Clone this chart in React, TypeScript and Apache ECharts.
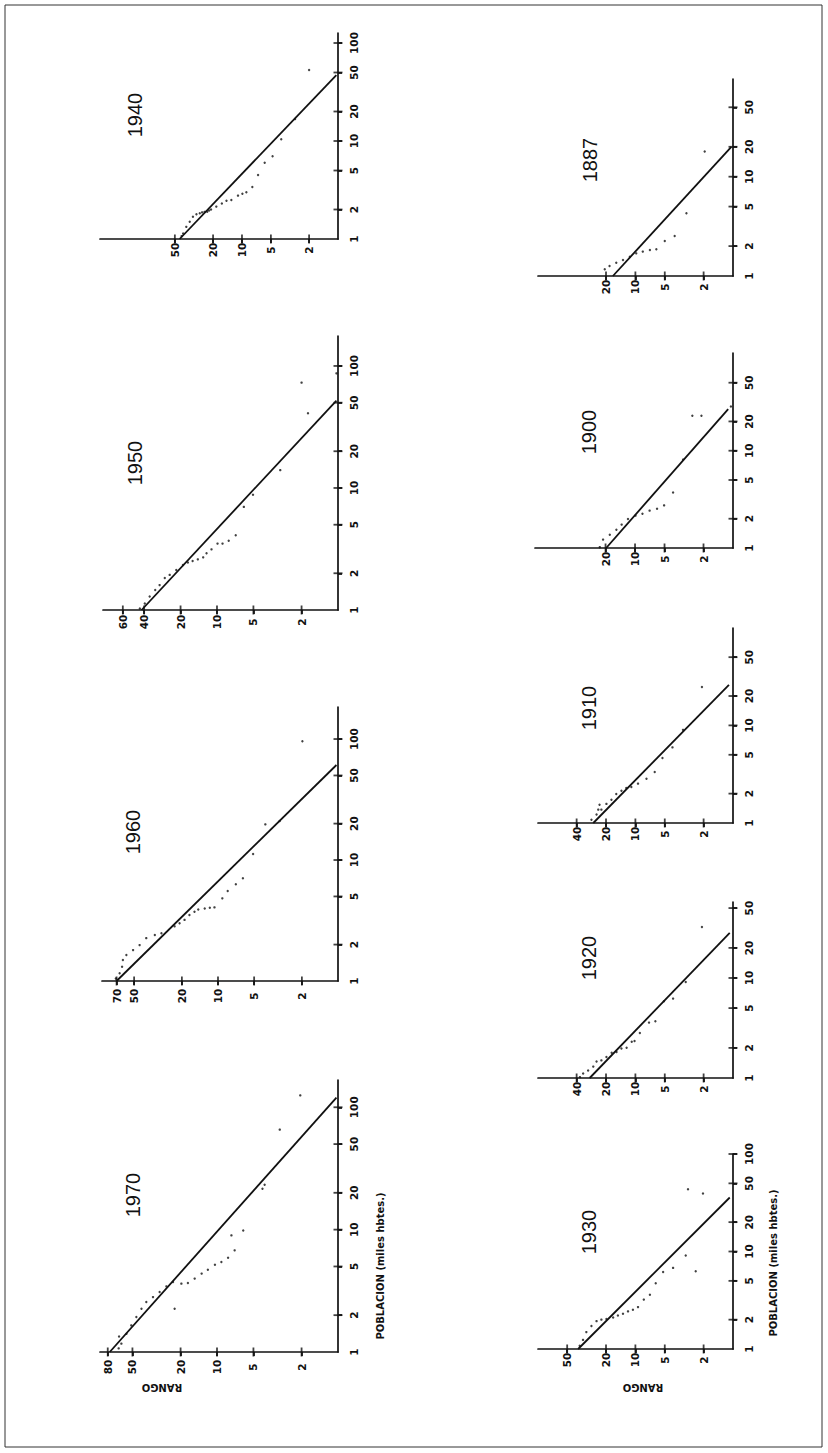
import React, { useEffect, useRef } from "react";
import * as echarts from "echarts";

// ---------- Tick labels ----------
const rankTicks1940 = [50, 20, 10, 5, 2];
const rankTicks1950 = [60, 40, 20, 10, 5, 2];
const rankTicks1960 = [70, 50, 20, 10, 5, 2];
const rankTicks1970 = [80, 50, 20, 10, 5, 2];
const rankTicks1887 = [20, 10, 5, 2];
const rankTicks1900 = [20, 10, 5, 2];
const rankTicks1910 = [40, 20, 10, 5, 2];
const rankTicks1920 = [40, 20, 10, 5, 2];
const rankTicks1930 = [50, 20, 10, 5, 2];
const popTicksLeft = [2, 5, 10, 20, 50, 100];
const popTicksRight = [2, 5, 10, 20, 50];
const popTicks1930 = [2, 5, 10, 20, 50, 100];

// ---------- City points (rank, population in thousands) ----------
const rank1940 = [2, 2.8, 3.9, 4.8, 5.8, 6.8, 7.8, 9.0, 9.9, 11, 12.9, 14.5, 16.2, 18.5, 21, 22, 23, 24.5, 26, 27.5, 29.8, 32.4, 35, 38, 41, 42.5];
const pop1940 = [53, 16.8, 10.4, 7.0, 6.0, 4.5, 3.4, 3.0, 2.9, 2.77, 2.5, 2.46, 2.3, 2.14, 2.0, 1.95, 1.9, 1.89, 1.87, 1.83, 1.79, 1.69, 1.5, 1.33, 1.14, 1.07];

const rank1950 = [1.03, 2, 1.77, 3, 5.04, 6, 7, 8, 9, 9.9, 11.1, 12.2, 13, 14.4, 15.9, 17.4, 19.1, 21.7, 24.6, 27, 29.8, 32.4, 36, 39.5, 43.4];
const pop1950 = [87, 73, 41, 14, 8.8, 7.0, 4.1, 3.7, 3.5, 3.5, 3.14, 2.92, 2.7, 2.6, 2.52, 2.45, 2.34, 2.13, 1.94, 1.83, 1.6, 1.46, 1.29, 1.13, 1.03];

const rank1960 = [1.98, 3.06, 4.03, 5.1, 6.2, 7.1, 8.3, 9.2, 10.7, 11.7, 12.9, 14.6, 15.7, 17.3, 19, 20.9, 23, 29.6, 33.6, 39.6, 45, 51, 58, 62, 63, 66, 71];
const pop1960 = [96, 21, 19.7, 11.2, 7.06, 6.3, 5.55, 4.82, 4.06, 4.03, 3.98, 3.9, 3.74, 3.51, 3.2, 3.0, 2.83, 2.48, 2.4, 2.26, 1.98, 1.8, 1.64, 1.49, 1.31, 1.16, 1.05];

const rank1970 = [2.05, 3.03, 4.04, 4.21, 6.07, 7.6, 7.15, 8.1, 9.2, 10.4, 11.9, 13.4, 15.3, 17.4, 19.7, 22.4, 23.1, 26.2, 29.8, 33.8, 38.4, 42.1, 46.4, 51.1, 56, 61.7, 64.5, 65];
const pop1970 = [125, 65.6, 23.3, 21.6, 9.85, 8.97, 6.77, 5.9, 5.43, 5.17, 4.7, 4.37, 3.98, 3.66, 3.62, 2.26, 3.73, 3.44, 3.09, 2.81, 2.56, 2.26, 1.93, 1.65, 1.41, 1.17, 1.34, 1.07];

const rank1887 = [1.95, 3.0, 3.96, 5.0, 6.1, 7.1, 8.4, 9.8, 11.4, 13.4, 15.7, 18.4, 20.6];
const pop1887 = [17.9, 4.28, 2.53, 2.25, 1.86, 1.83, 1.76, 1.69, 1.56, 1.45, 1.36, 1.26, 1.17];

const rank1900 = [1.05, 2.1, 2.6, 3.23, 4.09, 5.05, 5.96, 7.1, 8.4, 9.9, 11.8, 13.7, 15.5, 18.1, 21.2, 22.9];
const pop1900 = [28.5, 22.9, 22.9, 8.1, 3.72, 2.74, 2.53, 2.42, 2.25, 2.15, 1.99, 1.74, 1.54, 1.37, 1.22, 1.02];

const rank1910 = [2.08, 3.25, 4.17, 5.28, 6.34, 7.7, 9.4, 11.0, 12.4, 13.9, 15.7, 17.6, 19.8, 22.3, 23.3, 24, 25, 28.2];
const pop1910 = [24.7, 9.0, 5.95, 4.63, 3.33, 2.84, 2.53, 2.34, 2.28, 2.14, 1.98, 1.73, 1.57, 1.37, 1.54, 1.37, 1.22, 1.08];

const rank1920 = [2.08, 3.05, 4.11, 5.1, 6.24, 7.25, 9.0, 10.2, 10.9, 12.3, 13.9, 15.6, 17.5, 19.8, 22.3, 25, 27, 30.5, 34.3, 37];
const pop1920 = [32.4, 9.12, 6.22, 5.85, 3.69, 3.58, 2.82, 2.34, 2.3, 2.01, 1.97, 1.82, 1.79, 1.62, 1.5, 1.46, 1.3, 1.19, 1.11, 1.02];

const rank1930 = [2.03, 2.89, 3.05, 2.41, 4.11, 5.2, 6.19, 7.1, 8.2, 9.4, 10.6, 11.9, 13.4, 15.1, 16.9, 19.8, 22.3, 25, 28.2, 31.8, 34.4, 37.2];
const pop1930 = [39.3, 43.5, 9.1, 6.28, 6.79, 6.15, 4.73, 3.6, 3.21, 2.69, 2.53, 2.43, 2.3, 2.21, 2.1, 2.03, 2.0, 1.93, 1.72, 1.49, 1.24, 1.08];

// ---------- Fitted rank-size lines (end points) ----------
const fitRank1940 = [44.6, 1.04];
const fitPop1940 = [1, 47];
const fitRank1950 = [42, 1.03];
const fitPop1950 = [1, 52];
const fitRank1960 = [70, 1.03];
const fitPop1960 = [1, 61];
const fitRank1970 = [77, 1.03];
const fitPop1970 = [1, 120];
const fitRank1887 = [17, 1.04];
const fitPop1887 = [1, 20];
const fitRank1900 = [19.7, 1.12];
const fitPop1900 = [1, 26.8];
const fitRank1910 = [27, 1.1];
const fitPop1910 = [1, 26];
const fitRank1920 = [29.4, 1.08];
const fitPop1920 = [1, 28.2];
const fitRank1930 = [38.6, 1.08];
const fitPop1930 = [1, 35.8];

const AXIS_NAME_POP = "POBLACION (miles hbtes.)";
const AXIS_NAME_RANK = "RANGO";

const INK = "#111111";
const FONT = '"DejaVu Sans", sans-serif';

type Panel = {
  year: string;
  ranks: number[];
  pops: number[];
  fitR: number[];
  fitP: number[];
  rankTicks: number[];
  popTicks: number[];
  box: [number, number, number, number]; // left, top, right, bottom (px)
  rankMax: number;
  popMax: number;
  rankGap: number;
  title: [number, number];
};

const panels: Panel[] = [
  { year: "1940", ranks: rank1940, pops: pop1940, fitR: fitRank1940, fitP: fitPop1940, rankTicks: rankTicks1940, popTicks: popTicksLeft, box: [100, 33, 338, 239], rankMax: 301, popMax: 126.5, rankGap: 11, title: [135, 115] },
  { year: "1950", ranks: rank1950, pops: pop1950, fitR: fitRank1950, fitP: fitPop1950, rankTicks: rankTicks1950, popTicks: popTicksLeft, box: [103, 336, 338, 610], rankMax: 87.5, popMax: 176, rankGap: 12, title: [135, 463] },
  { year: "1960", ranks: rank1960, pops: pop1960, fitR: fitRank1960, fitP: fitPop1960, rankTicks: rankTicks1960, popTicks: popTicksLeft, box: [102, 707, 338, 981], rankMax: 92.6, popMax: 184, rankGap: 15, title: [133, 832] },
  { year: "1970", ranks: rank1970, pops: pop1970, fitR: fitRank1970, fitP: fitPop1970, rankTicks: rankTicks1970, popTicks: popTicksLeft, box: [100, 1080, 338, 1352], rankMax: 92.7, popMax: 167, rankGap: 15, title: [133, 1195] },
  { year: "1887", ranks: rank1887, pops: pop1887, fitR: fitRank1887, fitP: fitPop1887, rankTicks: rankTicks1887, popTicks: popTicksRight, box: [538, 79, 733, 276], rankMax: 99.5, popMax: 96.3, rankGap: 11, title: [590, 160] },
  { year: "1900", ranks: rank1900, pops: pop1900, fitR: fitRank1900, fitP: fitPop1900, rankTicks: rankTicks1900, popTicks: popTicksRight, box: [535, 353, 733, 548], rankMax: 105, popMax: 101, rankGap: 11, title: [589, 432] },
  { year: "1910", ranks: rank1910, pops: pop1910, fitR: fitRank1910, fitP: fitPop1910, rankTicks: rankTicks1910, popTicks: popTicksRight, box: [538, 628, 733, 823], rankMax: 99.5, popMax: 99.5, rankGap: 11, title: [589, 708] },
  { year: "1920", ranks: rank1920, pops: pop1920, fitR: fitRank1920, fitP: fitPop1920, rankTicks: rankTicks1920, popTicks: popTicksRight, box: [538, 902, 733, 1078], rankMax: 99.5, popMax: 57.5, rankGap: 11, title: [589, 958] },
  { year: "1930", ranks: rank1930, pops: pop1930, fitR: fitRank1930, fitP: fitPop1930, rankTicks: rankTicks1930, popTicks: popTicks1930, box: [538, 1154, 733, 1349], rankMax: 99.5, popMax: 100, rankGap: 11, title: [589, 1232] },
];

const labelStyle = {
  color: INK,
  fontSize: 10.5,
  fontWeight: "bold" as const,
  fontFamily: FONT,
};

function buildOption(): any {
  const grid: any[] = [];
  const xAxis: any[] = [];
  const yAxis: any[] = [];
  const series: any[] = [];
  const graphic: any[] = [];

  panels.forEach((p, i) => {
    const [l, t, r, b] = p.box;
    grid.push({ left: l, top: t, width: r - l, height: b - t, containLabel: false });
    xAxis.push({
      gridIndex: i,
      type: "log",
      logBase: 10,
      inverse: true,
      min: 1,
      max: p.rankMax,
      axisLine: { show: true, onZero: false, lineStyle: { color: INK, width: 1.7 } },
      axisTick: { show: true, customValues: p.rankTicks, length: 4, lineStyle: { color: INK, width: 1.7 } },
      minorTick: { show: false },
      splitLine: { show: false },
      axisLabel: {
        ...labelStyle,
        customValues: p.rankTicks,
        rotate: 90,
        align: "center",
        verticalAlign: "middle",
        margin: p.rankGap,
        hideOverlap: false,
        showMinLabel: true,
        showMaxLabel: true,
        formatter: (v: number) => String(Math.round(v)),
      },
    });
    yAxis.push({
      gridIndex: i,
      type: "log",
      logBase: 10,
      position: "right",
      min: 1,
      max: p.popMax,
      axisLine: { show: true, onZero: false, lineStyle: { color: INK, width: 1.7 } },
      axisTick: { show: true, customValues: p.popTicks, length: 4, lineStyle: { color: INK, width: 1.7 } },
      minorTick: { show: false },
      splitLine: { show: false },
      axisLabel: {
        ...labelStyle,
        customValues: [1, ...p.popTicks],
        rotate: 90,
        align: "center",
        verticalAlign: "middle",
        margin: 16,
        hideOverlap: false,
        showMinLabel: true,
        showMaxLabel: true,
        formatter: (v: number) => String(Math.round(v)),
      },
    });
    // fitted line
    series.push({
      type: "line",
      xAxisIndex: i,
      yAxisIndex: i,
      data: p.fitR.map((rv, k) => [rv, p.fitP[k]]),
      symbol: "none",
      lineStyle: { color: INK, width: 1.8 },
      silent: true,
      clip: false,
    });
    // city points
    series.push({
      type: "scatter",
      xAxisIndex: i,
      yAxisIndex: i,
      data: p.ranks.map((rv, k) => [rv, p.pops[k]]),
      symbol: "circle",
      symbolSize: 2.4,
      itemStyle: { color: INK },
      silent: true,
      clip: false,
    });
    // inner half of cross ticks on rank axis
    series.push({
      type: "scatter",
      xAxisIndex: i,
      yAxisIndex: i,
      data: p.rankTicks.map((v) => [v, 1]),
      symbol: "rect",
      symbolSize: [1.8, 9],
      itemStyle: { color: INK },
      silent: true,
      clip: false,
      z: 5,
    });
    // inner half of cross ticks on population axis
    series.push({
      type: "scatter",
      xAxisIndex: i,
      yAxisIndex: i,
      data: p.popTicks.map((v) => [1, v]),
      symbol: "rect",
      symbolSize: [9, 1.8],
      itemStyle: { color: INK },
      silent: true,
      clip: false,
      z: 5,
    });
    graphic.push({
      type: "text",
      x: p.title[0],
      y: p.title[1],
      rotation: Math.PI / 2,
      style: {
        text: p.year,
        fill: INK,
        font: '20px "Liberation Sans", sans-serif',
        align: "center",
        verticalAlign: "middle",
      },
    });
  });

  // axis titles for bottom panels
  const axisNamePos: [number, number, number, number][] = [
    [380, 1266, 162, 1387],
    [773, 1263, 643, 1387],
  ];
  axisNamePos.forEach(([px, py, rx, ry]) => {
    graphic.push({
      type: "text",
      x: px,
      y: py,
      rotation: Math.PI / 2,
      style: {
        text: AXIS_NAME_POP,
        fill: INK,
        font: 'bold 10px "DejaVu Sans", sans-serif',
        align: "center",
        verticalAlign: "middle",
      },
    });
    graphic.push({
      type: "text",
      x: rx,
      y: ry,
      rotation: Math.PI,
      style: {
        text: AXIS_NAME_RANK,
        fill: INK,
        font: 'bold 10px "DejaVu Sans", sans-serif',
        align: "center",
        verticalAlign: "middle",
      },
    });
  });

  // page frame
  graphic.push({
    type: "rect",
    shape: { x: 5, y: 5, width: 817, height: 1442 },
    style: { fill: "none", stroke: "#333", lineWidth: 1 },
    silent: true,
  });

  return {
    animation: false,
    backgroundColor: "#ffffff",
    grid,
    xAxis,
    yAxis,
    series,
    graphic,
  };
}

export default function App() {
  const ref = useRef<HTMLDivElement>(null);
  useEffect(() => {
    if (!ref.current) return;
    const chart = echarts.init(ref.current, null, { renderer: "svg" });
    chart.setOption(buildOption());
    return () => chart.dispose();
  }, []);
  return (
    <div
      ref={ref}
      style={{ position: "absolute", left: 0, top: 0, width: 828, height: 1453, background: "#fff" }}
    />
  );
}
